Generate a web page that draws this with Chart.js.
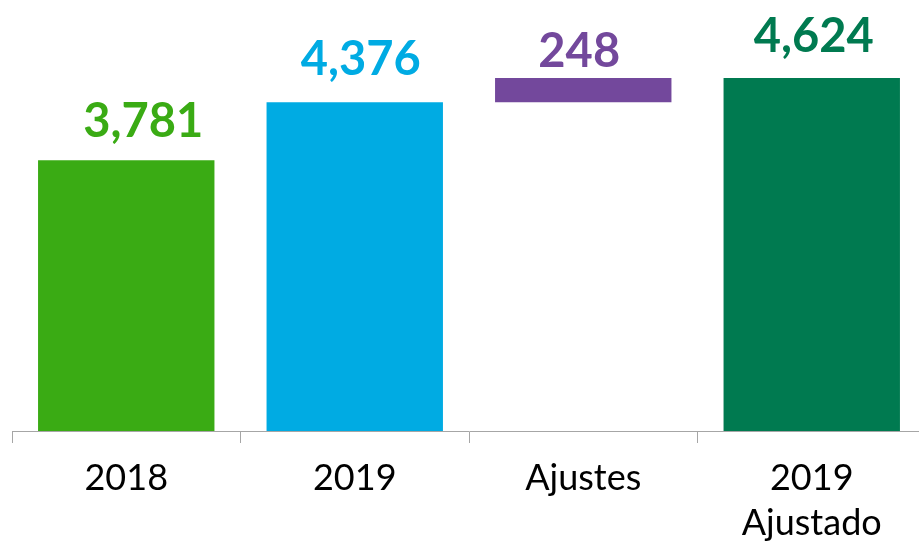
<!DOCTYPE html>
<html>
<head>
<meta charset="utf-8">
<script src="https://cdn.jsdelivr.net/npm/chart.js@4/dist/chart.umd.min.js"></script>
<style>
  html, body { margin: 0; padding: 0; background: #ffffff; overflow: hidden; }
  #wrap { width: 926px; height: 544px; }
</style>
</head>
<body>
<div id="wrap"><canvas id="c" width="926" height="544"></canvas></div>
<script>
// ---- data ----
const categories = [["2018"], ["2019"], ["Ajustes"], ["2019", "Ajustado"]];
const values = [3781, 4376, 248, 4624];
const isDelta = [false, false, true, false];
const valueLabels = ["3,781", "4,376", "248", "4,624"];
const barColors = ["#3AAB14", "#00ABE3", "#73489C", "#007A50"];

// build floating bars (waterfall)
const floating = values.map((v, i) => isDelta[i] ? [values[i - 1], values[i - 1] + v] : [0, v]);

const labelPlugin = {
  id: 'valueLabels',
  afterDatasetsDraw(chart) {
    const ctx = chart.ctx;
    const meta = chart.getDatasetMeta(0);
    const gaps = [23, 27, 11, 26];
    const nudges = [17, 6, -4, 2];
    ctx.save();
    ctx.font = 'bold 47px Lato';
    ctx.textAlign = 'center';
    ctx.textBaseline = 'alphabetic';
    meta.data.forEach((bar, i) => {
      const top = Math.min(bar.y, bar.base);
      ctx.fillStyle = barColors[i];
      ctx.fillText(valueLabels[i], bar.x + nudges[i], top - gaps[i]);
    });
    ctx.restore();
  }
};

new Chart(document.getElementById('c'), {
  type: 'bar',
  data: {
    labels: categories,
    datasets: [{
      data: floating,
      backgroundColor: barColors,
      borderWidth: 0,
      categoryPercentage: 0.772,
      barPercentage: 1.0
    }]
  },
  options: {
    responsive: false,
    animation: false,
    layout: { padding: { top: 41.4, left: 12, right: 0, bottom: 0 } },
    plugins: { legend: { display: false }, tooltip: { enabled: false } },
    scales: {
      x: {
        offset: true,
        grid: {
          offset: true,
          drawOnChartArea: false,
          drawTicks: true,
          tickLength: 12,
          color: '#A6A6A6',
          lineWidth: 1
        },
        border: { display: true, color: '#A6A6A6', width: 1 },
        ticks: {
          color: '#000000',
          font: { family: 'Lato', size: 36, lineHeight: 1.25 },
          padding: 13,
          maxRotation: 0,
          autoSkip: false
        },
        afterFit(scale) { scale.height = 113; }
      },
      y: {
        display: false,
        min: 1000,
        max: 5000
      }
    }
  },
  plugins: [labelPlugin]
});
</script>
</body>
</html>
